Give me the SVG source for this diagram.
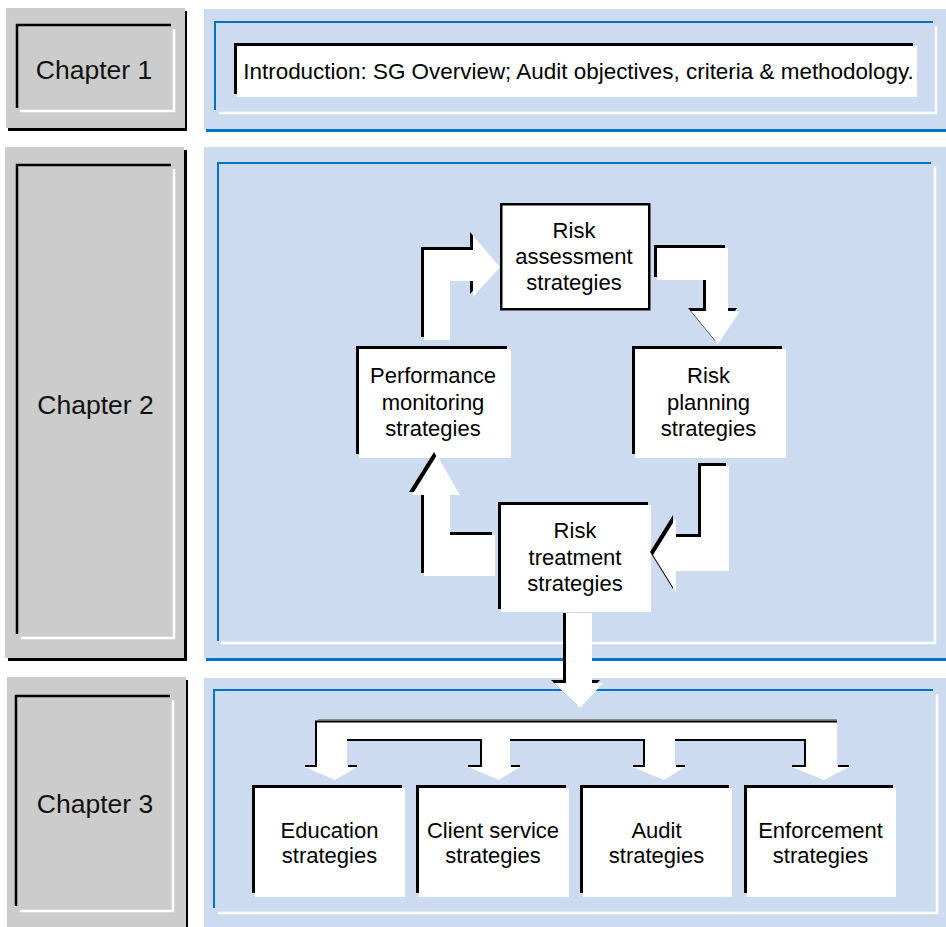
<svg xmlns="http://www.w3.org/2000/svg" width="946" height="927" viewBox="0 0 946 927">
  <style>
    .grey { fill: #cccccc; }
    .shadow { fill: #000000; }
    .panel { fill: #ccdbf0; }
    .pshadow { fill: #0073c4; }
    .dark { fill: none; stroke: #000000; stroke-width: 2.5; }
    .light { fill: none; stroke: #ffffff; stroke-width: 2.5; }
    .blue { fill: none; stroke: #0073c4; stroke-width: 2; }
    .blk { fill: #000000; }
    .wht { fill: #ffffff; }
    .edge { fill: none; stroke: #000000; stroke-width: 2; }
    .chap { font-family: "Liberation Sans", Arial, sans-serif; font-size: 26.5px; fill: #111111; text-anchor: middle; }
    .lbl { font-family: "Liberation Sans", Arial, sans-serif; font-size: 22px; fill: #000000; text-anchor: middle; }
    .intro { font-size: 22.45px; }
  </style>

  <!-- chapter column -->
  <g id="chapter1">
    <rect class="shadow" x="8" y="11" width="179" height="120"/>
    <rect class="grey" x="6" y="8" width="179" height="120"/>
    <polyline class="dark" points="17,108 17,25 171,25"/>
    <polyline class="light" points="174,29 174,111 20,111"/>
    <text class="chap" x="94" y="79">Chapter 1</text>
  </g>
  <g id="chapter2">
    <rect class="shadow" x="8" y="150" width="179" height="511"/>
    <rect class="grey" x="5" y="147" width="179" height="511"/>
    <polyline class="dark" points="17,634 17,165 171,165"/>
    <polyline class="light" points="174,169 174,638 21,638"/>
    <text class="chap" x="95.5" y="414">Chapter 2</text>
  </g>
  <g id="chapter3">
    <rect class="shadow" x="9" y="680" width="179" height="260"/>
    <rect class="grey" x="7" y="677" width="179" height="260"/>
    <polyline class="dark" points="16,906 16,696 170,696"/>
    <polyline class="light" points="173,700 173,911 20,911"/>
    <text class="chap" x="95" y="813">Chapter 3</text>
  </g>

  <!-- content panels -->
  <g id="panel1">
    <rect class="pshadow" x="206" y="12" width="742" height="120"/>
    <rect class="panel" x="204" y="9" width="742" height="120"/>
    <polyline class="blue" points="215,110 215,22 933,22"/>
    <polyline class="light" points="936,26 936,113 219,113"/>
  </g>
  <g id="panel2">
    <rect class="pshadow" x="206" y="150" width="742" height="511"/>
    <rect class="panel" x="204" y="147" width="742" height="511"/>
    <polyline class="blue" points="218,641 218,163 931,163"/>
    <polyline class="light" points="935,166 935,643 221,643"/>
  </g>
  <g id="panel3">
    <rect class="panel" x="204" y="678" width="742" height="260"/>
    <polyline class="blue" points="214,908 214,690 933,690"/>
    <polyline class="light" points="937,694 937,913 218,913"/>
  </g>

  <!-- chapter 1 content -->
  <g id="introduction">
    <rect class="blk" x="234" y="43" width="679" height="51"/>
    <rect class="wht" x="237" y="46" width="680" height="51"/>
    <text class="lbl intro" x="578.5" y="79">Introduction: SG Overview; Audit objectives, criteria &amp; methodology.</text>
  </g>

  <!-- risk management cycle -->
  <g id="risk-assessment">
    <rect x="501.25" y="204.25" width="148" height="105" fill="#ffffff" stroke="#000000" stroke-width="2.5"/>
    <text class="lbl" x="574" y="238">Risk</text>
    <text class="lbl" x="574" y="264">assessment</text>
    <text class="lbl" x="574" y="290">strategies</text>
  </g>
  <g id="risk-planning">
    <rect class="blk" x="632" y="346" width="150" height="108"/>
    <rect class="wht" x="635" y="349" width="151" height="109"/>
    <text class="lbl" x="708.5" y="383">Risk</text>
    <text class="lbl" x="708.5" y="410">planning</text>
    <text class="lbl" x="708.5" y="436">strategies</text>
  </g>
  <g id="risk-treatment">
    <rect class="blk" x="498" y="502" width="150" height="107"/>
    <rect class="wht" x="501" y="505" width="150" height="107"/>
    <text class="lbl" x="575" y="538">Risk</text>
    <text class="lbl" x="575" y="565">treatment</text>
    <text class="lbl" x="575" y="591">strategies</text>
  </g>
  <g id="performance-monitoring">
    <rect class="blk" x="356" y="346" width="151" height="108"/>
    <rect class="wht" x="359" y="349" width="152" height="109"/>
    <text class="lbl" x="433" y="383">Performance</text>
    <text class="lbl" x="433" y="410">monitoring</text>
    <text class="lbl" x="433" y="436">strategies</text>
  </g>

  <!-- chapter 3 strategies -->
  <g id="education">
    <rect class="blk" x="252" y="785" width="150" height="108"/>
    <rect class="wht" x="255" y="788" width="150" height="109"/>
    <text class="lbl" x="329.5" y="838">Education</text>
    <text class="lbl" x="329.5" y="863">strategies</text>
  </g>
  <g id="client-service">
    <rect class="blk" x="416" y="785" width="150" height="108"/>
    <rect class="wht" x="419" y="788" width="150" height="109"/>
    <text class="lbl" x="493" y="838">Client service</text>
    <text class="lbl" x="493" y="863">strategies</text>
  </g>
  <g id="audit">
    <rect class="blk" x="580" y="785" width="149" height="108"/>
    <rect class="wht" x="583" y="788" width="149" height="109"/>
    <text class="lbl" x="656.5" y="838">Audit</text>
    <text class="lbl" x="656.5" y="863">strategies</text>
  </g>
  <g id="enforcement">
    <rect class="blk" x="744" y="785" width="149" height="108"/>
    <rect class="wht" x="747" y="788" width="149" height="109"/>
    <text class="lbl" x="820.5" y="838">Enforcement</text>
    <text class="lbl" x="820.5" y="863">strategies</text>
  </g>

  <!-- block arrows: dark copy under a white copy shifted down-right -->
  <g id="connectors">
    <!-- performance monitoring -> risk assessment -->
    <polygon class="blk" points="421,337 421,247 470,247 470,232 497,264 470,294 470,278 447,278 447,337"/>
    <polygon class="wht" points="424,340 424,250 473,250 473,235 500,267 473,297 473,281 450,281 450,340"/>
    <!-- risk assessment -> risk planning -->
    <polygon class="blk" points="654,245 725,245 725,308 737,308 715,341 688,308 703,308 703,277 654,277"/>
    <polygon class="wht" points="657,248 728,248 728,311 740,311 718,344 691,311 706,311 706,280 657,280"/>
    <!-- risk planning -> risk treatment -->
    <polygon class="blk" points="698,463 726,463 726,568 673,568 673,589 650,552 673,515 673,534 698,534"/>
    <polygon class="wht" points="701,466 729,466 729,571 676,571 676,592 653,555 676,518 676,537 701,537"/>
    <!-- risk treatment -> performance monitoring -->
    <polygon class="blk" points="492,532 447,532 447,492 457,492 434,452 409,492 421,492 421,573 492,573"/>
    <polygon class="wht" points="495,535 450,535 450,495 460,495 437,455 412,495 424,495 424,576 495,576"/>
    <!-- risk treatment -> chapter 3 strategies -->
    <polygon class="blk" points="563,613 589,613 589,680 600,680 577,705 551,680 563,680"/>
    <polygon class="wht" points="566,613 592,613 592,683 603,683 580,708 554,683 566,683"/>

    <!-- distribution bar to the four strategies -->
    <line x1="318" y1="719.5" x2="837" y2="719.5" stroke="#8a8a8a" stroke-width="1"/>
    <polygon class="wht" points="317,722 837,722 837,767 849,767 824,780 792,767 806,767 806,740 675,740 675,767 685,767 664,780 633,767 645,767 645,740 510,740 510,767 520,767 499,780 468,767 482,767 482,740 347,740 347,767 357,767 335,780 305,767 317,767"/>
    <polyline class="edge" points="316,767 316,721.5 837,721.5"/>
    <line class="edge" x1="347" y1="740" x2="482" y2="740"/>
    <line class="edge" x1="510" y1="740" x2="645" y2="740"/>
    <line class="edge" x1="675" y1="740" x2="806" y2="740"/>
    <polyline class="edge" points="481,740 481,766 468,766"/>
    <polyline class="edge" points="644,740 644,766 633,766"/>
    <polyline class="edge" points="805,740 805,766 792,766"/>
    <line class="edge" x1="305" y1="766" x2="317" y2="766"/>
    <line class="edge" x1="348" y1="766" x2="357" y2="766"/>
    <line class="edge" x1="511" y1="766" x2="520" y2="766"/>
    <line class="edge" x1="676" y1="766" x2="685" y2="766"/>
    <line class="edge" x1="838" y1="766" x2="849" y2="766"/>
  </g>
</svg>
